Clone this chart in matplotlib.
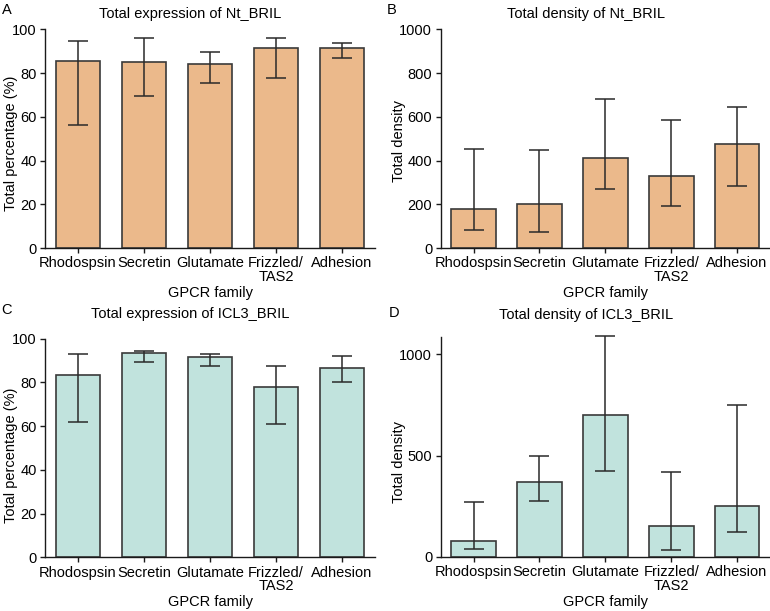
import numpy as np
import matplotlib
matplotlib.use("Agg")
import matplotlib.pyplot as plt

plt.rcParams['font.family'] = ['Liberation Sans', 'DejaVu Sans']
plt.rcParams['font.size'] = 10.5

# Datos
families = ['Rhodospsin', 'Secretin', 'Glutamate', 'Frizzled/\nTAS2', 'Adhesion']

nt_expr_mean = [85.5, 85.2, 84.3, 91.3, 91.6]
nt_expr_low = [56.2, 69.7, 75.5, 77.9, 87.1]
nt_expr_high = [94.8, 96.2, 89.6, 96.2, 93.6]

nt_dens_mean = [179.6, 199.4, 412.5, 327.0, 476.4]
nt_dens_low = [83.7, 73.0, 271.0, 191.8, 281.6]
nt_dens_high = [450.5, 449.0, 683.4, 584.5, 645.4]

icl3_expr_mean = [83.5, 93.3, 91.8, 77.7, 86.4]
icl3_expr_low = [61.9, 89.2, 87.5, 60.8, 80.0]
icl3_expr_high = [93.1, 94.5, 93.0, 87.5, 92.2]

icl3_dens_mean = [76.7, 371.7, 700.0, 153.3, 250.0]
icl3_dens_low = [36.7, 276.7, 421.7, 33.3, 121.7]
icl3_dens_high = [271.7, 496.7, 1090.0, 416.7, 750.0]

orange = '#ebb98b'
teal = '#c1e3dd'
edge = '#3a3a3a'

W, H = 770, 611
fig = plt.figure(figsize=(W / 100, H / 100), dpi=100)


def px_axes(left, right, top, bottom):
    return fig.add_axes([left / W, 1 - bottom / H, (right - left) / W, (bottom - top) / H])


def panel(ax, mean, low, high, color, title, ylabel, ylim, yticks, title_y, ylab_x, ylab_y):
    x = np.arange(len(families))
    mean = np.array(mean)
    yerr = [mean - np.array(low), np.array(high) - mean]
    ax.bar(x, mean, width=0.68, color=color, edgecolor=edge, linewidth=1.2, zorder=2)
    ax.errorbar(x, mean, yerr=yerr, fmt='none', ecolor='#2a2a2a', elinewidth=1.1,
                capsize=7.5, capthick=1.1, zorder=3, clip_on=False)
    ax.set_xlim(-0.5, 4.5)
    ax.set_ylim(*ylim)
    ax.set_yticks(yticks)
    ax.set_xticks(x)
    ax.set_xticklabels(families, linespacing=0.95)
    for s in ['top', 'right']:
        ax.spines[s].set_visible(False)
    for s in ['left', 'bottom']:
        ax.spines[s].set_linewidth(1.0)
        ax.spines[s].set_color('#1a1a1a')
    ax.tick_params(direction='out', length=3.6, width=1.0, color='#1a1a1a', pad=2.5)
    ax.text(0.44, title_y, title, transform=ax.transAxes, ha='center', va='center')
    ax.set_ylabel(ylabel, va='center')
    ax.yaxis.set_label_coords(ylab_x, ylab_y)
    ax.set_xlabel('GPCR family', va='center')
    ax.xaxis.set_label_coords(0.5, -0.205)


axA = px_axes(45, 375, 29.3, 248)
axB = px_axes(440.7, 770, 29.3, 248)
axC = px_axes(45, 375, 338.7, 557.3)
axD = px_axes(440.7, 770, 337.3, 556.7)

panel(axA, nt_expr_mean, nt_expr_low, nt_expr_high, orange, 'Total expression of Nt_BRIL',
      'Total percentage (%)', (0, 100), [0, 20, 40, 60, 80, 100], 1.071, -0.1045, 0.48)
panel(axB, nt_dens_mean, nt_dens_low, nt_dens_high, orange, 'Total density of Nt_BRIL',
      'Total density', (0, 1000), [0, 200, 400, 600, 800, 1000], 1.071, -0.128, 0.49)
panel(axC, icl3_expr_mean, icl3_expr_low, icl3_expr_high, teal, 'Total expression of ICL3_BRIL',
      'Total percentage (%)', (0, 100), [0, 20, 40, 60, 80, 100], 1.113, -0.1045, 0.468)
panel(axD, icl3_dens_mean, icl3_dens_low, icl3_dens_high, teal, 'Total density of ICL3_BRIL',
      'Total density', (0, 1085), [0, 500, 1000], 1.102, -0.128, 0.433)

# Letras de panel
for lab, px, py in [('A', 6.5, 10), ('B', 392, 10), ('C', 6.5, 310), ('D', 394, 313)]:
    fig.text(px / W, 1 - py / H, lab, ha='center', va='center')

fig.savefig('out.png', dpi=100)
